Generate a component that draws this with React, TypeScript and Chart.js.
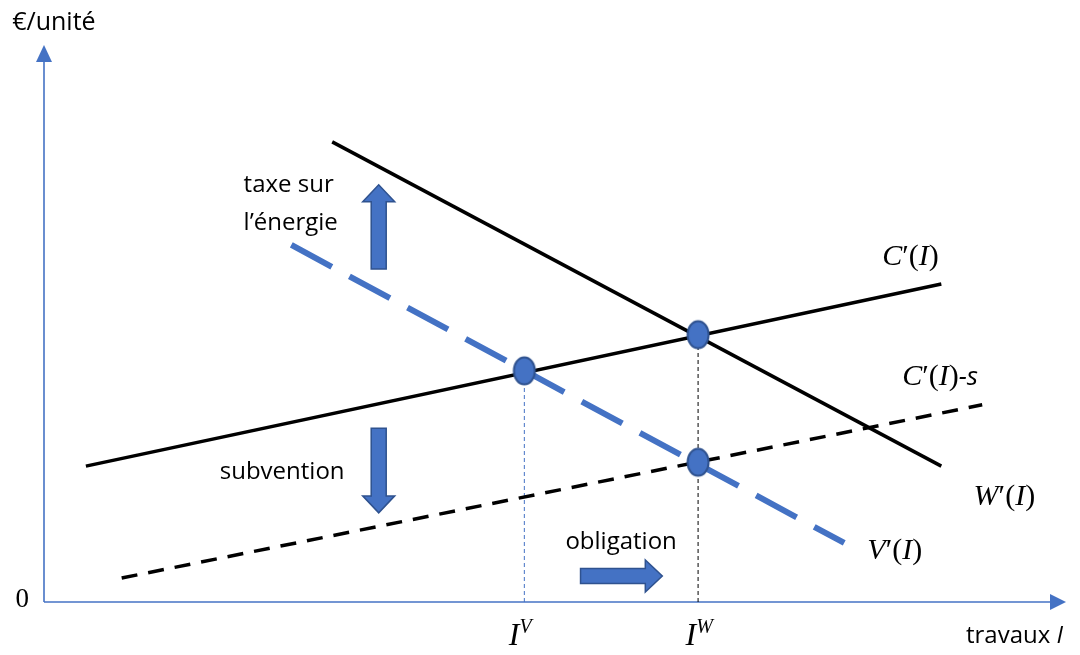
import React, { useEffect, useRef } from "react";
import { Chart, registerables } from "chart.js";

Chart.register(...registerables);

// ---- data (economic units: x = travaux I, y = €/unité) ----
const curveNames = ["C′(I)", "W′(I)", "C′(I)-s", "V′(I)"];
const cPrimeX = [0.41, 8.78];
const cPrimeY = [2.44, 5.71];
const wPrimeX = [2.82, 8.78];
const wPrimeY = [8.26, 2.44];
const cPrimeSubX = [0.76, 9.18];
const cPrimeSubY = [0.43, 3.54];
const vPrimeX = [2.42, 7.83];
const vPrimeY = [6.41, 1.06];
const equilibriumX = [4.7, 6.4, 6.4];
const equilibriumY = [4.15, 4.8, 2.51];
const xTickLabels = ["I^V", "I^W"];

const BLUE = "#4472C4";
const BLUE_DARK = "#2F528F";
const SANS = "'Open Sans', 'Noto Sans', sans-serif";
const SERIF = "'Liberation Serif', 'DejaVu Serif', serif";

type Run = { t: string; i?: boolean; s?: number; dy?: number; f?: string };

// annotation placement (data coordinates)
const textLabels = [
  { text: "€/unité", x: -0.311, y: 10.395, align: "left" as CanvasTextAlign, font: `25px ${SANS}` },
  { text: "0", x: -0.214, y: 0.036, align: "center" as CanvasTextAlign, font: `27px ${SERIF}` },
  { text: "taxe sur", x: 1.953, y: 7.487, align: "left" as CanvasTextAlign, font: `24px ${SANS}` },
  { text: "l’énergie", x: 1.953, y: 6.804, align: "left" as CanvasTextAlign, font: `24px ${SANS}` },
  { text: "subvention", x: 1.72, y: 2.334, align: "left" as CanvasTextAlign, font: `24px ${SANS}` },
  { text: "obligation", x: 5.102, y: 1.077, align: "left" as CanvasTextAlign, font: `24px ${SANS}` },
];

const mathLabels: { x: number; y: number; right?: boolean; runs: Run[] }[] = [
  { x: 8.202, y: 6.23, runs: [{ t: "C", i: true }, { t: "′" }, { t: "(" }, { t: "I", i: true }, { t: ")" }] },
  {
    x: 8.397,
    y: 4.075,
    runs: [{ t: "C", i: true }, { t: "′" }, { t: "(" }, { t: "I", i: true }, { t: ")" }, { t: "-s", i: true, f: SANS, s: 26 }],
  },
  { x: 9.096, y: 1.921, runs: [{ t: "W", i: true }, { t: "′" }, { t: "(" }, { t: "I", i: true }, { t: ")" }] },
  { x: 8.056, y: 0.952, runs: [{ t: "V", i: true }, { t: "′" }, { t: "(" }, { t: "I", i: true }, { t: ")" }] },
  { x: 4.548, y: -0.592, runs: [{ t: "I", i: true, s: 32 }, { t: "V", i: true, s: 20, dy: -12 }] },
  { x: 6.278, y: -0.592, runs: [{ t: "I", i: true, s: 32 }, { t: "W", i: true, s: 20, dy: -12 }] },
  { x: 9.971, y: -0.557, right: true, runs: [{ t: "travaux ", f: SANS, s: 24 }, { t: "I", i: true, f: SANS, s: 24 }] },
];

const blockArrows = [
  { x0: 3.275, y0: 5.98, x1: 3.275, y1: 7.49 },
  { x0: 3.275, y0: 3.12, x1: 3.275, y1: 1.6 },
  { x0: 5.25, y0: 0.467, x1: 6.05, y1: 0.467 },
];

function pts(xs: number[], ys: number[]) {
  return xs.map((x, i) => ({ x, y: ys[i] }));
}

function makeEllipse(): HTMLCanvasElement {
  const c = document.createElement("canvas");
  c.width = 26;
  c.height = 32;
  const g = c.getContext("2d")!;
  g.beginPath();
  g.ellipse(13, 16, 10.5, 13.5, 0, 0, Math.PI * 2);
  g.fillStyle = BLUE;
  g.fill();
  g.lineWidth = 2;
  g.strokeStyle = BLUE_DARK;
  g.stroke();
  return c;
}

function drawBlockArrow(ctx: CanvasRenderingContext2D, ax: number, ay: number, bx: number, by: number) {
  const shaftHalf = 7.5;
  const headHalf = 16;
  const headLen = 17;
  const len = Math.hypot(bx - ax, by - ay);
  const ux = (bx - ax) / len;
  const uy = (by - ay) / len;
  const nx = -uy;
  const ny = ux;
  const hx = bx - ux * headLen;
  const hy = by - uy * headLen;
  ctx.beginPath();
  ctx.moveTo(ax + nx * shaftHalf, ay + ny * shaftHalf);
  ctx.lineTo(hx + nx * shaftHalf, hy + ny * shaftHalf);
  ctx.lineTo(hx + nx * headHalf, hy + ny * headHalf);
  ctx.lineTo(bx, by);
  ctx.lineTo(hx - nx * headHalf, hy - ny * headHalf);
  ctx.lineTo(hx - nx * shaftHalf, hy - ny * shaftHalf);
  ctx.lineTo(ax - nx * shaftHalf, ay - ny * shaftHalf);
  ctx.closePath();
  ctx.fillStyle = BLUE;
  ctx.fill();
  ctx.lineWidth = 1.5;
  ctx.strokeStyle = BLUE_DARK;
  ctx.stroke();
}

const diagramPlugin = {
  id: "diagram",
  beforeDatasetsDraw(chart: any) {
    const { ctx, chartArea, scales } = chart;
    const x0 = scales.x.getPixelForValue(0);
    const y0 = scales.y.getPixelForValue(0);
    ctx.save();
    ctx.strokeStyle = BLUE;
    ctx.fillStyle = BLUE;
    ctx.lineWidth = 1.6;
    ctx.beginPath();
    ctx.moveTo(x0, y0);
    ctx.lineTo(x0, chartArea.top + 14);
    ctx.stroke();
    ctx.beginPath();
    ctx.moveTo(x0, chartArea.top);
    ctx.lineTo(x0 - 8, chartArea.top + 17);
    ctx.lineTo(x0 + 8, chartArea.top + 17);
    ctx.closePath();
    ctx.fill();
    ctx.beginPath();
    ctx.moveTo(x0, y0);
    ctx.lineTo(chartArea.right - 14, y0);
    ctx.stroke();
    ctx.beginPath();
    ctx.moveTo(chartArea.right, y0);
    ctx.lineTo(chartArea.right - 16, y0 - 8);
    ctx.lineTo(chartArea.right - 16, y0 + 8);
    ctx.closePath();
    ctx.fill();
    ctx.restore();
  },
  afterDatasetsDraw(chart: any) {
    const { ctx, scales } = chart;
    const px = (v: number) => scales.x.getPixelForValue(v);
    const py = (v: number) => scales.y.getPixelForValue(v);
    ctx.save();
    blockArrows.forEach((a) => drawBlockArrow(ctx, px(a.x0), py(a.y0), px(a.x1), py(a.y1)));

    ctx.fillStyle = "#000";
    ctx.textBaseline = "middle";
    textLabels.forEach((l) => {
      ctx.font = l.font;
      ctx.textAlign = l.align;
      ctx.fillText(l.text, px(l.x), py(l.y));
    });

    ctx.textAlign = "left";
    ctx.textBaseline = "alphabetic";
    const fontOf = (r: Run) => `${r.i ? "italic " : ""}${r.s ?? 30}px ${r.f ?? SERIF}`;
    mathLabels.forEach((m) => {
      let total = 0;
      m.runs.forEach((r) => {
        ctx.font = fontOf(r);
        total += ctx.measureText(r.t).width;
      });
      let cx = m.right ? px(m.x) - total : px(m.x);
      const base = py(m.y) + 10;
      m.runs.forEach((r) => {
        ctx.font = fontOf(r);
        ctx.fillText(r.t, cx, base + (r.dy ?? 0));
        cx += ctx.measureText(r.t).width;
      });
    });
    ctx.restore();
  },
};

export default function App() {
  const ref = useRef<HTMLCanvasElement | null>(null);

  useEffect(() => {
    if (!ref.current) return;
    const ellipse = makeEllipse();
    const guideV = [
      { x: equilibriumX[0], y: 0 },
      { x: equilibriumX[0], y: equilibriumY[0] },
    ];
    const guideW = [
      { x: equilibriumX[1], y: 0 },
      { x: equilibriumX[1], y: equilibriumY[1] },
    ];
    const chart = new Chart(ref.current, {
      type: "scatter",
      data: {
        datasets: [
          {
            label: "équilibres",
            data: pts(equilibriumX, equilibriumY),
            pointStyle: ellipse as any,
            pointRadius: 13,
            showLine: false,
            order: 0,
          },
          {
            label: curveNames[0],
            data: pts(cPrimeX, cPrimeY),
            showLine: true,
            borderColor: "#000",
            borderWidth: 3.5,
            pointRadius: 0,
            order: 2,
          },
          {
            label: curveNames[1],
            data: pts(wPrimeX, wPrimeY),
            showLine: true,
            borderColor: "#000",
            borderWidth: 3.5,
            pointRadius: 0,
            order: 2,
          },
          {
            label: curveNames[2],
            data: pts(cPrimeSubX, cPrimeSubY),
            showLine: true,
            borderColor: "#000",
            borderWidth: 3.5,
            borderDash: [16, 11],
            pointRadius: 0,
            order: 3,
          },
          {
            label: curveNames[3],
            data: pts(vPrimeX, vPrimeY),
            showLine: true,
            borderColor: BLUE,
            borderWidth: 6,
            borderDash: [46, 20],
            pointRadius: 0,
            order: 1,
          },
          {
            label: xTickLabels[0],
            data: guideV,
            showLine: true,
            borderColor: BLUE,
            borderWidth: 1,
            borderDash: [4, 3],
            pointRadius: 0,
            order: 4,
          },
          {
            label: xTickLabels[1],
            data: guideW,
            showLine: true,
            borderColor: "#000",
            borderWidth: 1,
            borderDash: [4, 3],
            pointRadius: 0,
            order: 4,
          },
        ],
      },
      options: {
        animation: false,
        responsive: false,
        maintainAspectRatio: false,
        layout: { padding: { left: 44, right: 7, top: 45, bottom: 53 } },
        scales: {
          x: { type: "linear", min: 0, max: 10, display: false },
          y: { type: "linear", min: 0, max: 10, display: false },
        },
        plugins: {
          legend: { display: false },
          tooltip: { enabled: false },
        },
        events: [],
      },
      plugins: [diagramPlugin],
    });
    return () => chart.destroy();
  }, []);

  return (
    <div style={{ position: "fixed", left: 0, top: 0, width: 1080, height: 655, background: "#fff" }}>
      <canvas ref={ref} width={1080} height={655} />
    </div>
  );
}
